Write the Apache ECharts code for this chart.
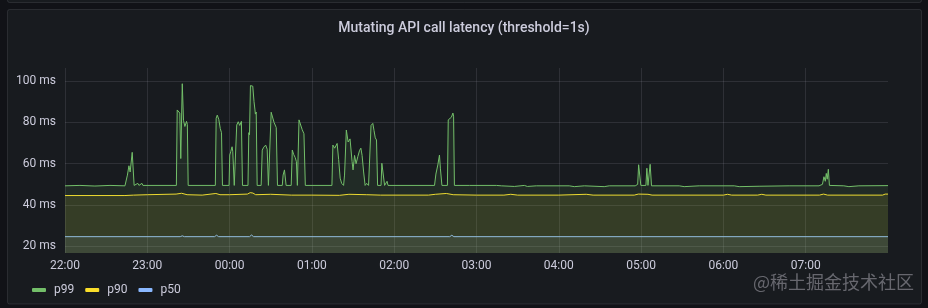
<!DOCTYPE html>
<html>
<head>
<meta charset="utf-8">
<script src="https://cdn.jsdelivr.net/npm/echarts@6/dist/echarts.min.js"></script>
<style>
html,body{margin:0;padding:0;background:#111217;}
#chart{width:928px;height:308px;}
</style>
</head>
<body>
<div id="chart"></div>
<script>
// Time is in minutes after 22:00
const xTickValues = [0, 60, 120, 180, 240, 300, 360, 420, 480, 540];
const xTickLabels = ['22:00', '23:00', '00:00', '01:00', '02:00', '03:00', '04:00', '05:00', '06:00', '07:00'];
const yTickValues = [20, 40, 60, 80, 100];
const seriesNames = ['p99', 'p90', 'p50'];

const p99 = [
  [0, 49.3], [10.9, 49.5], [21.8, 49.2], [32.8, 49.5], [43.7, 49.3],
  [44.4, 49.5], [45.5, 54.5], [46.6, 59], [47.5, 56], [49.0, 65.5], [50.4, 49.5],
  [53.1, 50.5], [53.9, 49.5], [56.1, 50.5], [56.8, 49.5],
  [81.2, 49.5], [81.8, 86], [83.0, 86.5], [83.7, 84.5], [84.4, 62.5], [85.5, 98.7],
  [86.4, 81], [87.4, 78], [88.6, 80.5], [89.2, 79], [89.8, 49.5],
  [109.6, 49.5], [110.2, 82], [111.0, 83.5], [112.1, 81.5], [113.2, 77], [114.1, 75], [114.8, 49.5],
  [119.6, 49.5], [120.1, 64.2], [120.9, 66], [121.8, 68.2], [122.3, 66], [123.4, 49.5],
  [124.7, 49.5], [125.2, 78.7], [126.3, 80.3], [127.4, 78.5], [128.6, 80.5], [129.4, 49.5],
  [133.4, 49.5], [134.0, 75], [134.5, 74], [135.2, 97.8], [136.9, 97.5], [137.8, 90],
  [138.5, 86], [138.8, 84], [139.4, 85], [140.1, 49.5],
  [143.0, 49.5], [143.8, 66.6], [144.9, 68], [146.3, 69], [147.4, 67], [148.3, 49.5],
  [149.7, 49.5], [150.3, 84.9], [151.4, 84], [152.4, 80], [152.9, 79.5], [154.0, 77.5], [154.9, 49.5],
  [158.4, 49.5], [159.0, 54.5], [160.0, 57], [161.2, 49.5],
  [164.9, 49.5], [165.7, 66.6], [166.7, 64.5], [167.8, 63], [168.7, 61], [169.4, 49.5],
  [169.9, 49.5], [170.6, 81.2], [171.7, 80.8], [172.9, 76.5], [174.2, 74.5], [175.2, 49.5],
  [194.6, 49.5], [195.3, 69], [196.6, 67.5], [198.4, 69.8], [199.5, 62], [200.6, 53], [201.7, 50.5],
  [203.1, 49.5], [203.8, 54.5], [205.1, 76.3], [206.4, 70.5], [207.8, 72], [209.3, 61], [210.0, 57],
  [211.1, 64], [212.2, 60], [213.5, 63.5], [214.8, 66.5], [215.7, 67.5], [216.6, 64], [217.7, 56],
  [218.8, 49.5], [219.9, 50.5], [221.3, 49.5],
  [222.4, 49.5], [223.1, 78.5], [224.4, 79.5], [225.3, 76], [226.2, 72.5], [227.1, 71.5], [227.9, 49.5],
  [230.4, 49.5], [231.0, 60.2], [232.2, 60.2], [233.0, 49.5], [234.8, 51.5], [235.5, 49.5],
  [269.4, 49.5], [270.4, 55], [271.8, 59.4], [273.0, 64.2], [273.7, 57.5], [274.8, 49.5],
  [278.8, 49.5], [279.4, 81.2], [280.5, 81.8], [281.7, 82.5], [282.8, 84.5], [283.3, 83], [283.9, 49.5],
  [294.8, 49.5], [314.5, 49.5], [315.2, 49.0], [318.1, 49.3], [327.6, 49.0], [334.9, 49.5],
  [337.1, 49.0], [343.6, 49.3], [367.6, 49.3], [371.3, 48.9], [378.6, 49.3], [393.1, 48.9], [396.8, 49.3],
  [415.7, 49.3], [417.5, 50], [418.2, 59.5], [419.1, 60.2], [419.8, 49.5],
  [423.5, 49.5], [424.2, 57.8], [425.0, 49.5], [425.9, 49.5], [426.6, 59.7], [427.6, 49.3],
  [447.8, 49.3], [451.4, 48.9], [462.4, 49.3], [487.9, 49.3], [491.5, 48.9], [506.0, 49.1],
  [527.9, 49.3], [549.7, 49.3], [551.1, 48.8],
  [552.2, 50], [553.3, 53.7], [554.3, 51.5], [555.0, 55.3], [555.7, 52.5], [556.5, 57.3], [557.3, 49.5],
  [567.8, 49.3], [571.5, 48.9], [578.8, 49.3], [600, 49.4]
];

const p90 = [
  [0, 44.6], [43.7, 44.6], [45, 45.0], [50, 44.8], [60, 45.0], [81, 45.3], [85, 45.7], [89, 45.0],
  [100, 44.8], [110, 45.6], [113, 45.0], [120, 45.0], [133, 45.3], [135, 46.0], [137, 45.8], [139, 45.0],
  [150, 45.2], [165, 44.8], [180, 44.8], [200, 44.7], [207, 45.2], [220, 45.0], [230, 44.8],
  [265, 44.8], [270, 45.2], [278, 45.6], [283, 45.0], [300, 44.8], [320, 44.8], [325, 45.2], [330, 44.8],
  [360, 44.8], [380, 45.2], [385, 44.8], [415, 44.8], [418, 45.3], [425, 45.2], [428, 44.8],
  [480, 44.8], [483, 45.2], [486, 44.8], [505, 44.8], [508, 45.2], [511, 44.8],
  [550, 44.8], [553, 45.3], [556, 44.8], [596, 44.8], [598, 45.3], [600, 45.3]
];

const p50 = [
  [0, 24.7], [84, 24.7], [85.5, 25.1], [87, 24.7], [109, 24.7], [110.5, 25.4], [112, 24.7],
  [134.5, 24.7], [136, 25.5], [137.5, 24.7], [280.5, 24.7], [282, 25.4], [283.5, 24.7], [600, 24.7]
];

const colors = ['#73BF69', '#FADE2A', '#8AB8FF'];
const dataList = [p99, p90, p50];

const chart = echarts.init(document.getElementById('chart'), null, {renderer: 'canvas'});
const textColor = '#ccccdc';

chart.setOption({
  animation: false,
  backgroundColor: '#111217',
  title: {
    text: 'Mutating API call latency (threshold=1s)',
    left: 'center',
    top: 16,
    textStyle: {color: textColor, fontSize: 14, fontWeight: 500, fontFamily: 'Roboto'}
  },
  graphic: {
    elements: [
      {type: 'rect', z: -100, silent: true, shape: {x: 7.5, y: -10, width: 914, height: 12.5, r: 2},
        style: {fill: '#181b1f', stroke: 'rgba(204,204,220,0.12)', lineWidth: 1}},
      {type: 'rect', z: -100, silent: true, shape: {x: 7.5, y: 9.5, width: 914, height: 294.5, r: 2},
        style: {fill: '#181b1f', stroke: 'rgba(204,204,220,0.12)', lineWidth: 1}},
      {type: 'text', z: 100, silent: true, left: 753, top: 273,
        style: {text: '@稀土掘金技术社区', fill: 'rgba(130,130,138,0.75)', fontSize: 18, fontFamily: 'Noto Sans CJK SC'}}
    ]
  },
  legend: {
    left: 27,
    top: 279,
    icon: 'roundRect',
    itemWidth: 14,
    itemHeight: 4,
    itemGap: 11,
    data: seriesNames,
    textStyle: {color: textColor, fontSize: 12, fontFamily: 'Roboto', padding: [0, 0, 0, 3]}
  },
  grid: {left: 65, right: 40, top: 68, bottom: 55},
  xAxis: {
    type: 'value',
    min: 0,
    max: 600,
    axisLine: {show: false},
    axisTick: {show: false, customValues: xTickValues},
    axisLabel: {
      customValues: xTickValues,
      color: textColor, fontSize: 12, fontFamily: 'Roboto', margin: 7,
      formatter: function (v) { const i = xTickValues.indexOf(v); return i >= 0 ? xTickLabels[i] : ''; }
    },
    splitLine: {show: true, lineStyle: {color: 'rgba(204,204,220,0.12)', width: 1}}
  },
  yAxis: {
    type: 'value',
    min: 16.8,
    max: 106.3,
    axisLine: {show: false},
    axisTick: {show: false, customValues: yTickValues},
    axisLabel: {
      customValues: yTickValues,
      color: textColor, fontSize: 12, fontFamily: 'Roboto', margin: 9,
      formatter: function (v) { return v + ' ms'; }
    },
    splitLine: {show: true, lineStyle: {color: 'rgba(204,204,220,0.12)', width: 1}}
  },
  series: seriesNames.map(function (name, i) {
    return {
      name: name,
      type: 'line',
      data: dataList[i],
      showSymbol: false,
      symbol: 'none',
      sampling: null,
      color: colors[i],
      lineStyle: {width: 1, color: colors[i]},
      areaStyle: {color: colors[i], opacity: 0.1, origin: 'start'},
      z: 3 - i
    };
  })
});
</script>
</body>
</html>
